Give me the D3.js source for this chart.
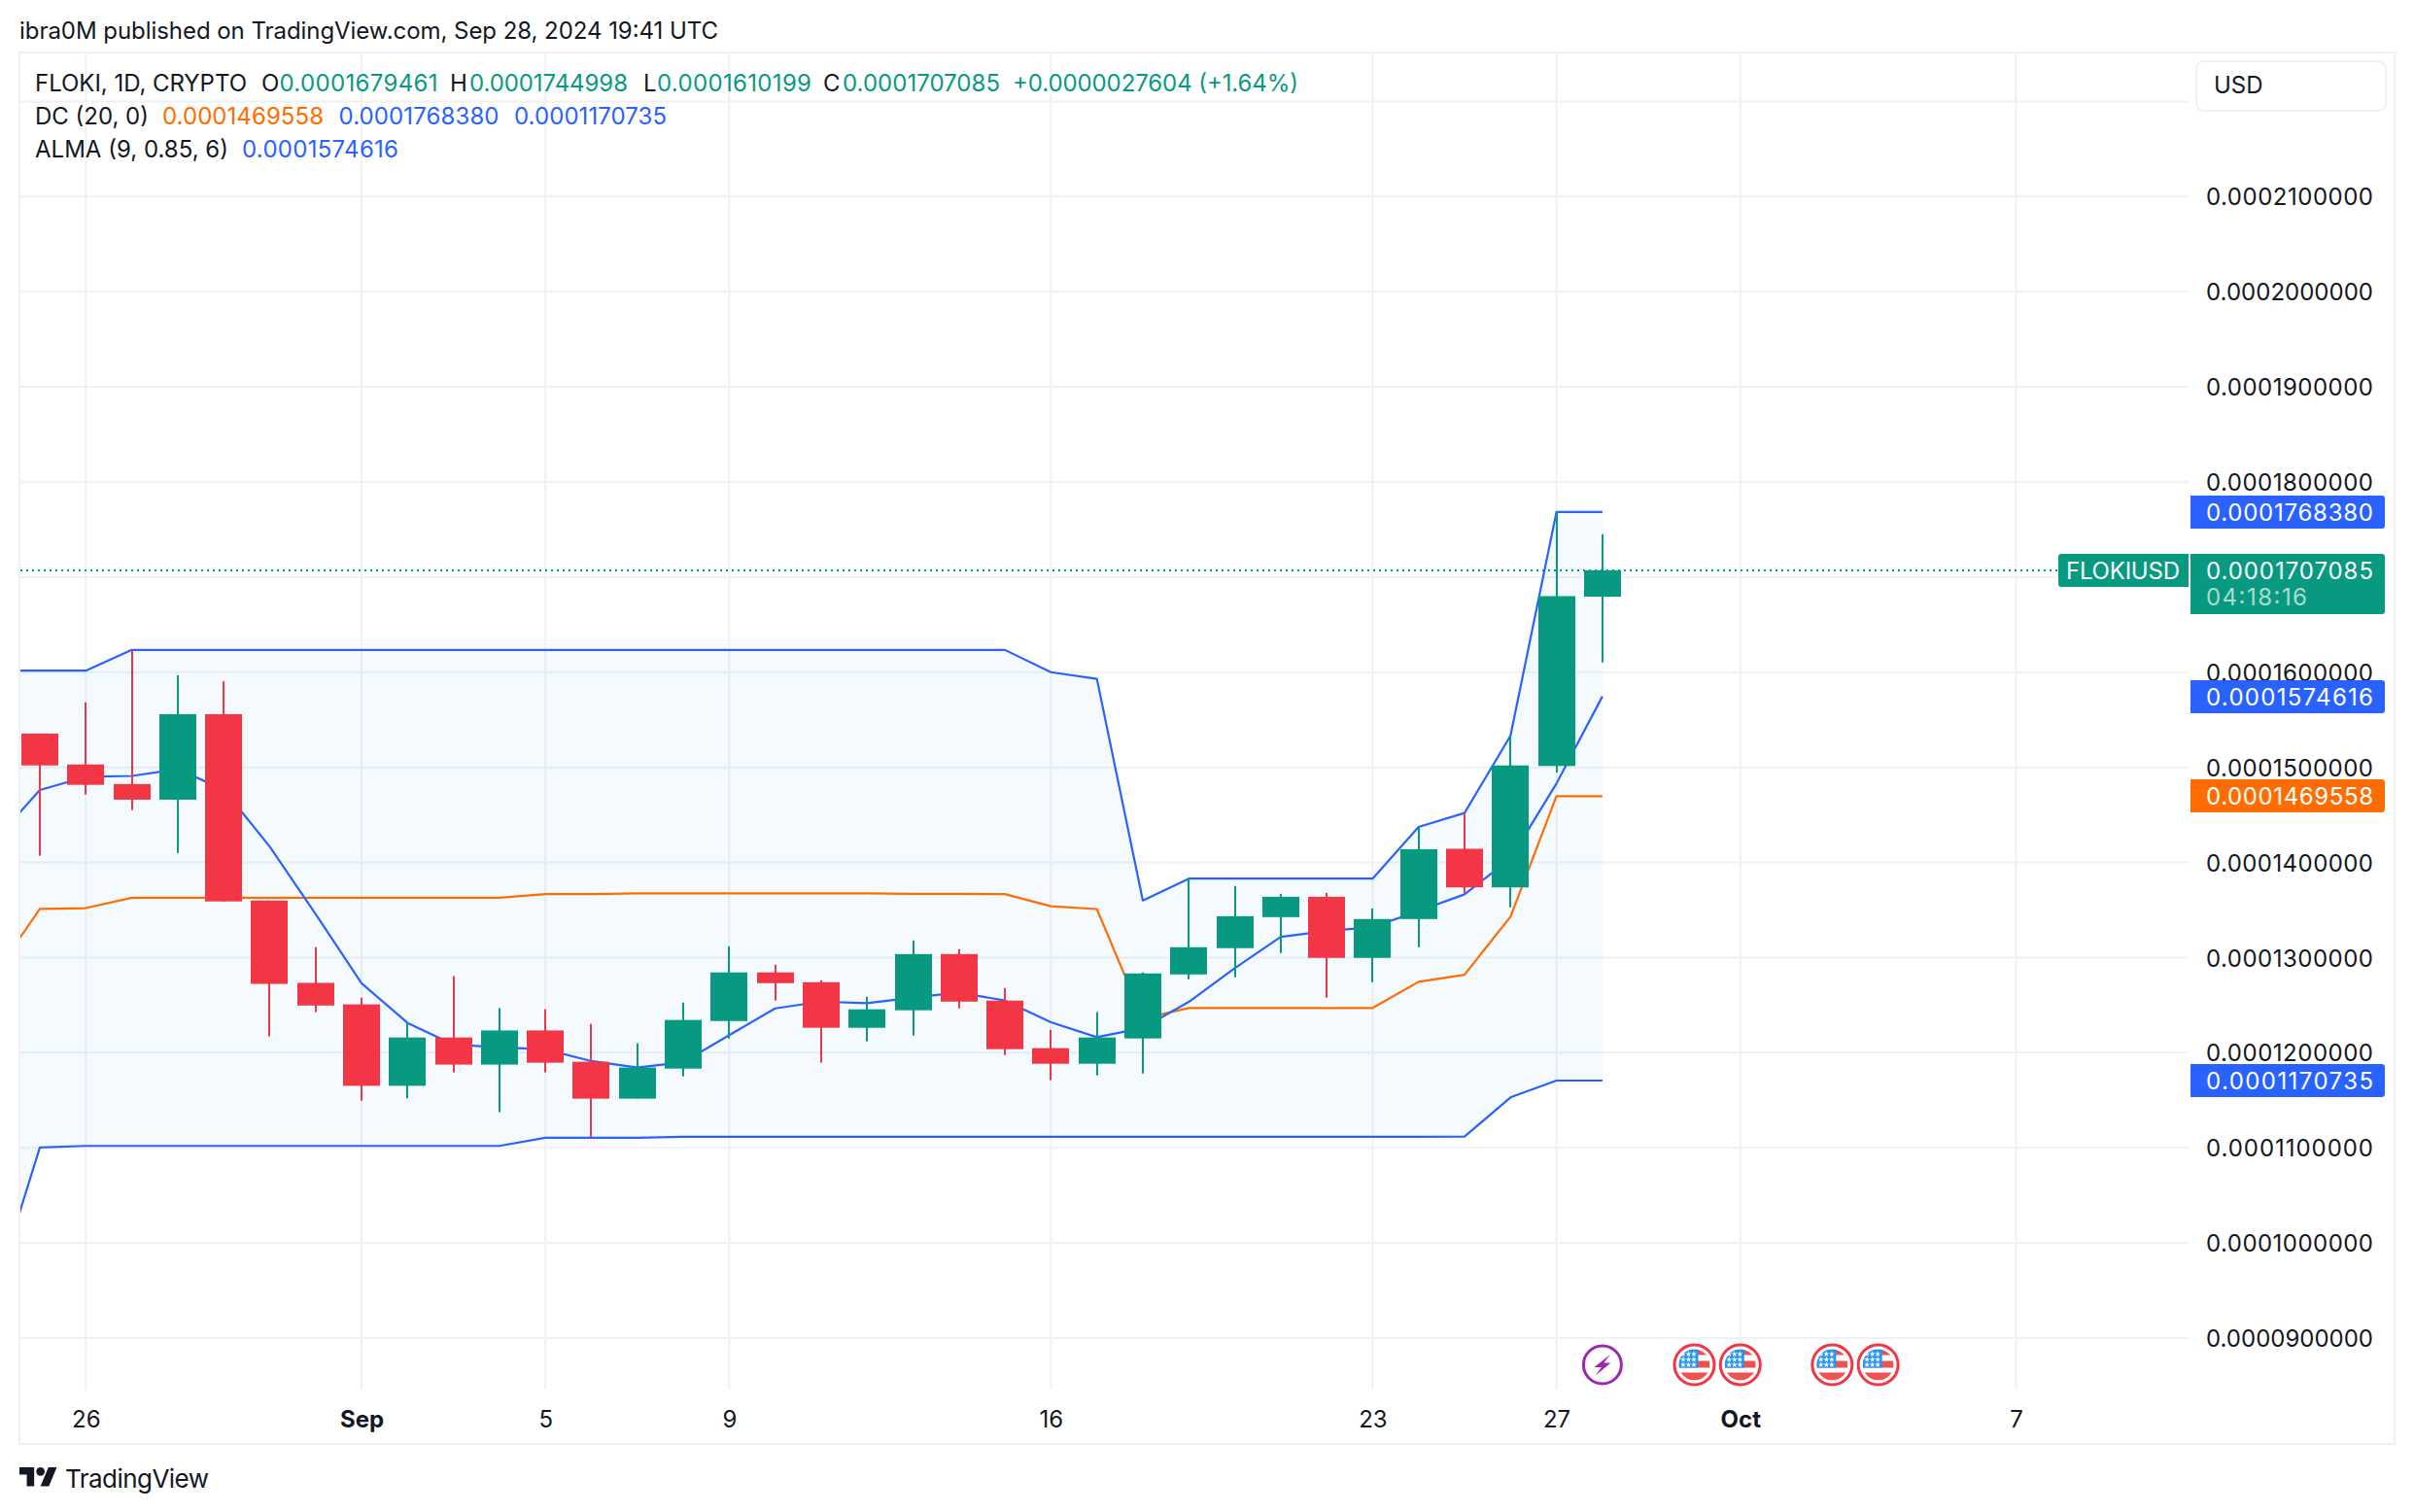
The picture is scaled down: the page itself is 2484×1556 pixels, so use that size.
<!DOCTYPE html>
<html><head><meta charset="utf-8">
<script src="https://cdn.jsdelivr.net/npm/d3@7/dist/d3.min.js"></script>
<style>html,body{margin:0;padding:0;background:#fff}svg{display:block}text{font-family:Inter,"Noto Sans",sans-serif;}</style>
</head><body><div id="c"></div>
<script>
const dates=["2024-08-25","2024-08-26","2024-08-27","2024-08-28","2024-08-29","2024-08-30","2024-08-31","2024-09-01","2024-09-02","2024-09-03","2024-09-04","2024-09-05","2024-09-06","2024-09-07","2024-09-08","2024-09-09","2024-09-10","2024-09-11","2024-09-12","2024-09-13","2024-09-14","2024-09-15","2024-09-16","2024-09-17","2024-09-18","2024-09-19","2024-09-20","2024-09-21","2024-09-22","2024-09-23","2024-09-24","2024-09-25","2024-09-26","2024-09-27","2024-09-28"];
const open_=[0.00015355,0.00015030,0.00014824,0.00014660,0.00015559,0.00013600,0.00012734,0.00012508,0.00011652,0.00012160,0.00011875,0.00012234,0.00011905,0.00011517,0.00011833,0.00012333,0.00012844,0.00012741,0.00012262,0.00012446,0.00013037,0.00012548,0.00012048,0.00011884,0.00012150,0.00012823,0.00013099,0.00013425,0.00013639,0.00012997,0.00013405,0.00014144,0.00013738,0.00015014,0.0001679461];
const high_=[0.00015355,0.00015684,0.00016234,0.00015969,0.00015906,0.00013600,0.00013110,0.00012578,0.00012320,0.00012805,0.00012469,0.00012457,0.00012303,0.00012099,0.00012527,0.00013119,0.00012925,0.00012762,0.00012588,0.00013180,0.00013088,0.00012680,0.00012241,0.00012425,0.00012844,0.00013830,0.00013752,0.00013670,0.00013680,0.00013517,0.00014376,0.00014513,0.00015333,0.00017688,0.0001744998];
const low_=[0.00014070,0.00014715,0.00014550,0.00014100,0.00013590,0.00012172,0.00012426,0.00011496,0.00011520,0.00011793,0.00011375,0.00011793,0.00011109,0.00011517,0.00011752,0.00012150,0.00012548,0.00011895,0.00012119,0.00012180,0.00012466,0.00011976,0.00011711,0.00011762,0.00011782,0.00012772,0.00012793,0.00013048,0.00012578,0.00012741,0.00013109,0.00013679,0.00013528,0.00014945,0.0001610199];
const close_=[0.00015020,0.00014816,0.00014660,0.00015559,0.00013590,0.00012723,0.00012496,0.00011652,0.00012160,0.00011875,0.00012234,0.00011895,0.00011517,0.00011844,0.00012344,0.00012844,0.00012731,0.00012262,0.00012456,0.00013037,0.00012537,0.00012037,0.00011884,0.00012160,0.00012833,0.00013109,0.00013435,0.00013639,0.00012997,0.00013405,0.00014139,0.00013738,0.00015020,0.00016800,0.0001707085];
// the indicators start one session before the first visible candle
const dcDates=["2024-08-24"].concat(dates);
const dcUpper=[0.00016016,0.00016016,0.00016016,0.00016234,0.00016234,0.00016234,0.00016234,0.00016234,0.00016234,0.00016234,0.00016234,0.00016234,0.00016234,0.00016234,0.00016234,0.00016234,0.00016234,0.00016234,0.00016234,0.00016234,0.00016234,0.00016234,0.00016234,0.00016000,0.00015930,0.00013600,0.00013830,0.00013830,0.00013830,0.00013830,0.00013830,0.00014374,0.00014520,0.00015333,0.0001768380,0.0001768380];
const dcLower=[0.00009450,0.00011004,0.00011020,0.00011020,0.00011020,0.00011020,0.00011020,0.00011020,0.00011020,0.00011020,0.00011020,0.00011020,0.00011105,0.00011105,0.00011105,0.00011115,0.00011115,0.00011115,0.00011115,0.00011115,0.00011115,0.00011115,0.00011115,0.00011115,0.00011115,0.00011115,0.00011115,0.00011115,0.00011115,0.00011115,0.00011115,0.00011115,0.00011118,0.00011530,0.0001170735,0.0001170735];
const dcBasis=[0.00012810,0.00013512,0.00013520,0.00013629,0.00013629,0.00013629,0.00013629,0.00013629,0.00013629,0.00013629,0.00013629,0.00013629,0.00013668,0.00013668,0.00013675,0.00013675,0.00013675,0.00013675,0.00013675,0.00013675,0.00013670,0.00013670,0.00013667,0.00013540,0.00013510,0.00012360,0.00012470,0.00012470,0.00012470,0.00012470,0.00012470,0.00012745,0.00012820,0.00013430,0.0001469558,0.0001469558];
const alma=[0.00014220,0.00014762,0.00014900,0.00014910,0.00014980,0.00014766,0.00014168,0.00013457,0.00012730,0.00012313,0.00012086,0.00012055,0.00012035,0.00011912,0.00011844,0.00011900,0.00012184,0.00012466,0.00012537,0.00012520,0.00012580,0.00012633,0.00012548,0.00012320,0.00012163,0.00012260,0.00012534,0.00012888,0.00013218,0.00013279,0.00013320,0.00013490,0.00013665,0.00014040,0.00014830,0.0001574616];
const priceTicks=[0.00009,0.00010,0.00011,0.00012,0.00013,0.00014,0.00015,0.00016,0.00017,0.00018,0.00019,0.00020,0.00021,0.00022];
const hiddenPriceLabels=[0.00017,0.00022];
const timeTicks=["2024-08-26","2024-09-01","2024-09-05","2024-09-09","2024-09-16","2024-09-23","2024-09-27","2024-10-01","2024-10-07"];
const timeLabels=["26","Sep","5","9","16","23","27","Oct","7"];
const boldLabels=["Sep","Oct"];
const flagDates=["2024-09-30","2024-10-01","2024-10-03","2024-10-04"];
const boltDates=["2024-09-28"];
const lastPrice=0.0001707085;

const W=2484,H=1556;
const GREEN="#089981",RED="#f23645",BLUE="#2962ff",ORANGE="#ff6d00",GRID="#f0f1f4",INK="#131722";
const parse=d3.utcParse("%Y-%m-%d");
const x=d3.scaleUtc().domain([parse("2024-08-25"),parse("2024-10-07")]).range([41,2074.5]);
const y=d3.scaleLinear().domain([0.00009,0.00018]).range([1377,496]);
const pane={l:21,r:2252,t:55,b:1430};
const svg=d3.select("#c").append("svg").attr("width",W).attr("height",H).attr("viewBox",`0 0 ${W} ${H}`);
svg.append("rect").attr("width",W).attr("height",H).attr("fill","#fff");
svg.append("defs").append("clipPath").attr("id","pane").append("rect").attr("x",pane.l).attr("y",pane.t).attr("width",pane.r-pane.l).attr("height",pane.b-pane.t);

function label(g,px,py,str,fill,size,width,weight){
  const t=g.append("text").attr("x",px).attr("y",py).attr("dy","0.36em").attr("fill",fill).attr("font-size",size).text(str);
  if(width){t.attr("textLength",width).attr("lengthAdjust","spacing");}
  if(weight)t.attr("font-weight",weight);
  return t;
}
// grid
const grid=svg.append("g");
grid.selectAll("line.h").data(priceTicks).join("line").attr("class","h").attr("x1",pane.l).attr("x2",pane.r).attr("y1",d=>y(d)).attr("y2",d=>y(d)).attr("stroke",GRID).attr("stroke-width",2);
grid.selectAll("line.v").data(timeTicks).join("line").attr("class","v").attr("y1",pane.t).attr("y2",pane.b).attr("x1",d=>x(parse(d))).attr("x2",d=>x(parse(d))).attr("stroke",GRID).attr("stroke-width",2);
// frame
svg.append("rect").attr("x",20).attr("y",54).attr("width",2444).attr("height",1432).attr("fill","none").attr("stroke","#f0f0f6").attr("stroke-width",2);

const plot=svg.append("g").attr("clip-path","url(#pane)");
const dx=dcDates.map(parse);
const band=d3.area().x((d,i)=>x(dx[i])).y0((d,i)=>y(dcLower[i])).y1(d=>y(d));
plot.append("path").attr("d",band(dcUpper)).attr("fill","rgba(33,150,243,0.05)");
const ln=d3.line().x((d,i)=>x(dx[i])).y(d=>y(d));
[[dcUpper,BLUE],[dcLower,BLUE],[dcBasis,ORANGE],[alma,BLUE]].forEach(([s,c])=>plot.append("path").attr("d",ln(s)).attr("fill","none").attr("stroke",c).attr("stroke-width",2.2).attr("stroke-linejoin","round"));
// last price line
plot.append("line").attr("x1",pane.l).attr("x2",2118).attr("y1",y(lastPrice)).attr("y2",y(lastPrice)).attr("stroke",GREEN).attr("stroke-width",2).attr("stroke-dasharray","2 4");
// candles
const cs=plot.selectAll("g.c").data(dates).join("g").attr("class","c");
const col=i=>close_[i]>=open_[i]?GREEN:RED;
cs.append("rect").attr("x",d=>Math.round(x(parse(d)))-1).attr("width",2).attr("y",(d,i)=>y(high_[i])).attr("height",(d,i)=>y(low_[i])-y(high_[i])).attr("fill",(d,i)=>col(i));
cs.append("rect").attr("x",d=>Math.round(x(parse(d)))-19).attr("width",38).attr("y",(d,i)=>y(Math.max(open_[i],close_[i]))).attr("height",(d,i)=>Math.abs(y(open_[i])-y(close_[i]))).attr("fill",(d,i)=>col(i));

// price axis
const fmt=d=>d.toFixed(10);
const yAxis=d3.axisRight(y).tickValues(priceTicks.filter(t=>!hiddenPriceLabels.includes(t))).tickFormat(fmt).tickSize(0).tickPadding(0);
const ya=svg.append("g").attr("transform","translate(2270,0)").call(yAxis);
ya.select(".domain").remove();
ya.selectAll("text").attr("font-family","Inter").attr("font-size",24).attr("fill",INK).attr("dy","0.36em").attr("textLength",172).attr("lengthAdjust","spacing");
// time axis
const xAxis=d3.axisBottom(x).tickValues(timeTicks.map(parse)).tickFormat((d,i)=>timeLabels[i]).tickSize(0).tickPadding(0);
const xa=svg.append("g").attr("transform","translate(0,1460)").call(xAxis);
xa.select(".domain").remove();
xa.selectAll("text").attr("font-family","Inter").attr("font-size",24).attr("fill",INK).attr("y",0).attr("dy","0.36em").attr("font-weight",(d,i)=>boldLabels.includes(timeLabels[i])?700:400);

// tags
function tag(v,c){const cy=Math.round(y(v));
  svg.append("path").attr("d",`M2254 ${cy-17}H2451a3 3 0 0 1 3 3V${cy+14}a3 3 0 0 1 -3 3H2254Z`).attr("fill",c);
  label(svg,2270,cy,fmt(v),"#fff",24,172);}
tag(dcUpper[35],BLUE);tag(alma[35],BLUE);tag(dcBasis[35],ORANGE);tag(dcLower[35],BLUE);
// last price tag
const ly=Math.round(y(lastPrice));
svg.append("path").attr("d",`M2254 ${ly-17}H2451a3 3 0 0 1 3 3V${ly+42}a3 3 0 0 1 -3 3H2254Z`).attr("fill",GREEN);
label(svg,2270,ly,fmt(lastPrice),"#fff",24,172);
label(svg,2270,ly+27,"04:18:16","#a8dcd0",24,104);
svg.append("path").attr("d",`M2252 ${ly-17}H2121a3 3 0 0 0 -3 3V${ly+14}a3 3 0 0 0 3 3H2252Z`).attr("fill",GREEN);
label(svg,2126,ly,"FLOKIUSD","#fff",24,117);

// USD button
svg.append("rect").attr("x",2260).attr("y",63).attr("width",195).attr("height",51).attr("rx",8).attr("fill","#fff").attr("stroke",GRID).attr("stroke-width",2);
label(svg,2278,87,"USD",INK,24);

// header + legend
label(svg,20,31,"ibra0M published on TradingView.com, Sep 28, 2024 19:41 UTC",INK,24,719);
const leg=svg.append("g");
[[36,"FLOKI, 1D, CRYPTO",INK,218],[269,"O",INK],[287.5,"0.0001679461",GREEN,163],[463,"H",INK],[483,"0.0001744998",GREEN,163],[662,"L",INK],[676,"0.0001610199",GREEN,159],[847,"C",INK],[867,"0.0001707085",GREEN,162],[1042,"+0.0000027604 (+1.64%)",GREEN,294]].forEach(a=>label(leg,a[0],85.5,a[1],a[2],24,a[3]));
[[36,"DC (20, 0)",INK,117],[167,"0.0001469558",ORANGE,166],[348.5,"0.0001768380",BLUE,165],[529,"0.0001170735",BLUE,157]].forEach(a=>label(leg,a[0],119.5,a[1],a[2],24,a[3]));
[[36,"ALMA (9, 0.85, 6)",INK,199],[249,"0.0001574616",BLUE,161]].forEach(a=>label(leg,a[0],153.5,a[1],a[2],24,a[3]));

// event icons
const EY=1404.5;
const defs=svg.select("defs");
defs.append("clipPath").attr("id","fc").append("circle").attr("r",16);
const star=d3.symbol().type(d3.symbolStar).size(11)();
const fl=svg.selectAll("g.f").data(flagDates).join("g").attr("class","f").attr("transform",d=>`translate(${x(parse(d))},${EY})`);
fl.append("circle").attr("r",20.5).attr("fill","#fff").attr("stroke",RED).attr("stroke-width",3);
const inner=fl.append("g").attr("clip-path","url(#fc)");
inner.append("rect").attr("x",-16).attr("y",-16).attr("width",32).attr("height",32).attr("fill","#fff");
[[-16,6],[-4,7],[8,8]].forEach(([a,h])=>inner.append("rect").attr("x",-16).attr("y",a).attr("width",32).attr("height",h).attr("fill","#ef5350"));
inner.append("rect").attr("x",-16).attr("y",-16).attr("width",20).attr("height",19).attr("fill","#2196f3");
[-11,-5.5,0].forEach(sy=>[-11.5,-6,-0.5].forEach(sx=>inner.append("path").attr("d",star).attr("transform",`translate(${sx},${sy})`).attr("fill","#fff")));
const bo=svg.selectAll("g.b").data(boltDates).join("g").attr("class","b").attr("transform",d=>`translate(${x(parse(d))},${EY})`);
bo.append("circle").attr("r",19.5).attr("fill","#fff").attr("stroke","#9c27b0").attr("stroke-width",3);
bo.append("path").attr("d","M8 -10.5 L-8.5 2.5 L-1 2.5 L-7 11 L8.5 -2 L1.5 -2 Z").attr("fill","#9c27b0");

// logo
const lg=svg.append("g").attr("transform","translate(20,1505.7) scale(1.083)").attr("fill",INK);
lg.append("path").attr("d","M14 22H7V11H0V4h14v18zM28 22h-8l7.5-18h8L28 22z");
lg.append("circle").attr("cx",20).attr("cy",8).attr("r",4);
label(svg,67,1522,"TradingView",INK,26,148);
</script></body></html>
